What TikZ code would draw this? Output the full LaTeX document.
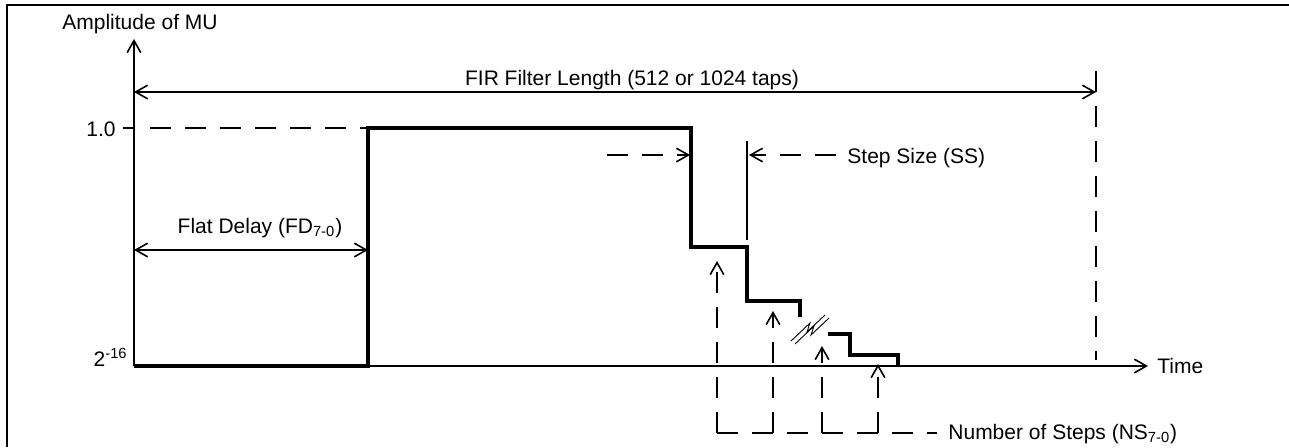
\documentclass[tikz,border=0pt]{standalone}
\usepackage{fontspec}
\setmainfont{Liberation Sans}
\usetikzlibrary{arrows.meta}
\begin{document}
\begin{tikzpicture}[x=0.5pt,y=-0.5pt,
  font=\fontsize{10.5}{12}\selectfont,
  thinline/.style={line width=0.95pt},
  thickline/.style={line width=1.75pt},
  dashline/.style={line width=0.95pt, dash pattern=on 10.5pt off 7pt},
  barb/.tip={Straight Barb[length=6pt,width=6.8pt,line width=0.8pt]},
  lbl/.style={inner sep=0pt}]
\useasboundingbox (0,0) rectangle (1289,447);

% frame
\draw[line width=1.2pt] (7,447) -- (7,5) -- (1289,5);

% key coordinates
\coordinate (O) at (134,366);
\coordinate (Ytop) at (134,39);
\coordinate (Xend) at (1148,366);
\coordinate (Rise) at (368,366);
\coordinate (FIRl) at (134,92);
\coordinate (FIRr) at (1096,92);
\coordinate (FDl) at (134,250);
\coordinate (FDr) at (368,250);

% axes
\draw[thinline, -barb] (O) -- (Ytop);
\draw[thinline, -barb] (Rise) -- (Xend);

% labels
\node[lbl, anchor=base west] (amp) at (62,29) {Amplitude of MU};
\node[lbl, anchor=base east] (one) at (116,136) {1.0};
\node[lbl, anchor=base east] (low) at (128,366) {2\textsuperscript{-16}};
\node[lbl, anchor=base west] (time) at (1157,373) {Time};
\node[lbl, anchor=base] (fir) at (632,85) {FIR Filter Length (512 or 1024 taps)};
\node[lbl, anchor=base] (fd) at (260,233) {Flat Delay (FD\textsubscript{7-0})};
\node[lbl, anchor=base west] (ss) at (847,163) {Step Size (SS)};
\node[lbl, anchor=base west] (ns) at (948,439) {Number of Steps (NS\textsubscript{7-0})};

% FIR filter length
\draw[thinline, barb-barb] (FIRl) -- (FIRr);
\draw[dashline] (1096,71) -- (1096,360);

% flat delay
\draw[thinline, barb-barb] (FDl) -- (FDr);

% 1.0 level
\draw[thinline] (123,128) -- (134,128);
\draw[dashline] (150,128) -- (368,128);

% MU profile
\draw[thickline] (O) -- (Rise) -- (368,128) -- (691,128) -- (691,247)
  -- (747,247) -- (747,301) -- (800,301) -- (800,317);
\draw[thickline] (828,334) -- (850,334) -- (850,355) -- (898,355) -- (898,366);

% break symbol
\draw[line width=0.45pt] (791,341) -- (810,323) -- (807,332) -- (825,315);
\draw[line width=0.45pt] (795,344) -- (814,326) -- (811,335) -- (829,318);

% step size
\draw[thinline] (747,141) -- (747,240);
\draw[dashline, -barb] (607,155) -- (690,155);
\draw[dashline, -barb] (836,155) -- (749,155);

% number of steps
\draw[dashline] (717,433) -- (937,433);
\draw[dashline, -barb] (717,433) -- (717,261);
\draw[dashline, -barb] (773,433) -- (773,311);
\draw[dashline, -barb] (822,433) -- (822,346);
\draw[dashline, -barb] (878,433) -- (878,364);
\end{tikzpicture}
\end{document}
